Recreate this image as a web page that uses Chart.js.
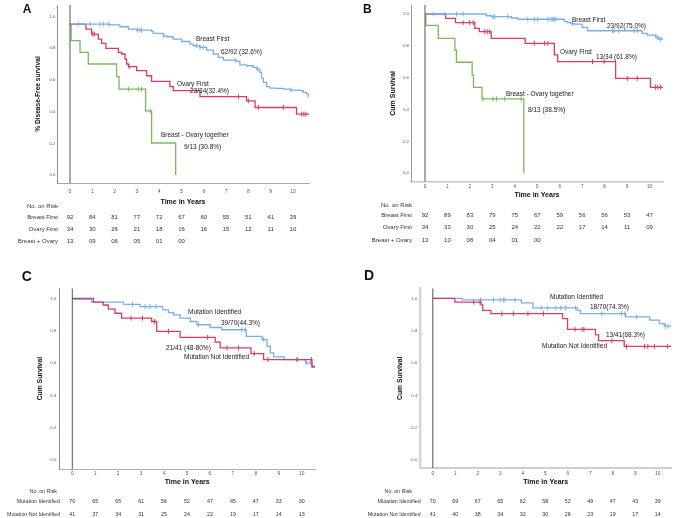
<!DOCTYPE html>
<html>
<head>
<meta charset="utf-8">
<script src="https://cdn.jsdelivr.net/npm/chart.js@4.4.1/dist/chart.umd.min.js"></script>
<style>
  body { margin: 0; background: #fff; }
  #wrap { position: relative; width: 676px; height: 518px; }
  canvas { position: absolute; }
</style>
</head>
<body>
<div id="wrap">
  <canvas id="chartA" width="338" height="259" style="left:0;top:0"></canvas>
  <canvas id="chartB" width="338" height="259" style="left:338px;top:0"></canvas>
  <canvas id="chartC" width="338" height="259" style="left:0;top:259px"></canvas>
  <canvas id="chartD" width="338" height="259" style="left:338px;top:259px"></canvas>
</div>
<script>
const FONT = "'Liberation Sans', Arial, sans-serif";
const BLUE = "#78b0e4";
const RED = "#d83c66";
const GREEN = "#7cb85b";

const years = [0, 1, 2, 3, 4, 5, 6, 7, 8, 9, 10];
const yTicks = [0, 0.2, 0.4, 0.6, 0.8, 1.0];

// ---- Panel A: disease-free survival ----
const aBreastFirst = [[0, 0.952], [1.79, 0.947], [2.24, 0.935], [2.62, 0.92], [2.99, 0.914], [3.66, 0.905], [3.74, 0.893], [4.19, 0.878], [4.33, 0.872], [4.63, 0.857], [5.01, 0.842], [5.38, 0.826], [5.53, 0.815], [5.83, 0.805], [6.13, 0.788], [6.43, 0.763], [6.65, 0.742], [6.88, 0.725], [7.47, 0.716], [7.62, 0.695], [7.92, 0.689], [8.22, 0.679], [8.37, 0.668], [8.52, 0.647], [8.59, 0.611], [8.67, 0.584], [8.82, 0.557], [8.97, 0.548], [9.27, 0.546], [9.57, 0.542], [9.87, 0.536], [10.31, 0.532], [10.46, 0.521], [10.61, 0.51], [10.7, 0.494], [10.75, 0.494]];
const aBreastFirstCens = [0.37, 0.9, 1.35, 1.49, 1.72, 3.03, 3.14, 3.21, 4.19, 5.68, 5.83, 5.98, 7.4, 8.42, 9.91];
const aOvaryFirst = [[0, 0.952], [0.72, 0.92], [0.97, 0.889], [1.27, 0.857], [1.42, 0.83], [1.61, 0.798], [2.17, 0.773], [2.32, 0.763], [2.47, 0.731], [2.54, 0.7], [2.62, 0.683], [2.99, 0.658], [3.44, 0.626], [3.66, 0.59], [4.48, 0.557], [4.63, 0.532], [5.83, 0.494], [7.92, 0.468], [8.3, 0.426], [10.16, 0.384], [10.75, 0.384]];
const aOvaryFirstCens = [1.02, 1.09, 2.65, 7.55, 8.0, 8.45, 9.57, 10.39, 10.49, 10.58];
const aTogether = [[0, 0.952], [0.05, 0.848], [0.45, 0.773], [0.82, 0.7], [2.09, 0.62], [2.2, 0.542], [3.39, 0.405], [3.66, 0.202], [4.74, 0]];
const aTogetherCens = [2.62, 3.06, 3.21, 3.6];
const aRiskNames = ["Breast First", "Ovary First", "Breast + Ovary"];
const aRiskBreast = ["92", "84", "81", "77", "72", "67", "60", "55", "51", "41", "39"];
const aRiskOvary = ["34", "30", "26", "21", "18", "16", "16", "15", "12", "11", "10"];
const aRiskBoth = ["13", "09", "06", "05", "01", "00"];
const aLabels = ["Breast First", "62/92 (32.6%)", "Ovary First", "23/34(32.4%)", "Breast - Ovary together", "9/13 (30.8%)"];

// ---- Panel B: overall survival ----
const bBreastFirst = [[0, 1], [2.73, 0.989], [2.95, 0.983], [3.84, 0.975], [4.14, 0.967], [6.2, 0.954], [6.35, 0.946], [6.5, 0.94], [6.65, 0.937], [7.0, 0.916], [7.24, 0.895], [9.67, 0.879], [9.9, 0.868], [10.27, 0.854], [10.4, 0.843], [10.6, 0.843]];
const bBreastFirstCens = [0.37, 0.89, 1.4, 1.7, 3.03, 3.1, 3.69, 4.58, 4.87, 5.02, 5.47, 5.61, 5.69, 5.76, 5.83, 6.57, 8.35, 8.42, 8.64, 9.31, 9.45, 10.34, 10.49];
const bOvaryFirst = [[0, 1], [0.92, 0.973], [1.36, 0.946], [2.22, 0.91], [2.42, 0.889], [2.95, 0.847], [4.46, 0.816], [5.76, 0.743], [5.91, 0.701], [8.49, 0.596], [10.04, 0.54], [10.6, 0.54]];
const bOvaryFirstCens = [1.7, 1.99, 2.15, 2.66, 2.77, 2.88, 4.87, 5.32, 5.47, 7.46, 7.98, 9.01, 9.45, 10.27, 10.37, 10.49];
const bTogether = [[0, 1], [0.04, 0.929], [0.59, 0.847], [1.33, 0.774], [1.4, 0.697], [2.1, 0.617], [2.16, 0.54], [2.54, 0.467], [4.4, 0]];
const bTogetherCens = [2.58, 3.03, 3.18, 3.55, 4.28];
const bRiskNames = ["Breast First", "Ovary First", "Breast + Ovary"];
const bRiskBreast = ["92", "89", "83", "79", "75", "67", "59", "56", "56", "53", "47"];
const bRiskOvary = ["34", "33", "30", "25", "24", "22", "22", "17", "14", "11", "09"];
const bRiskBoth = ["13", "10", "08", "04", "01", "00"];
const bLabels = ["Breast First", "23/92(75.0%)", "Ovary First", "13/34 (61.8%)", "Breast - Ovary together", "8/13 (38.5%)"];

// ---- Panel C: mutation status, disease-free ----
const cIdentified = [[0, 0.994], [0.84, 0.976], [2.23, 0.963], [2.95, 0.949], [3.94, 0.929], [4.19, 0.912], [4.41, 0.898], [4.7, 0.878], [5.14, 0.857], [5.43, 0.837], [6.01, 0.82], [6.52, 0.806], [7.58, 0.765], [8.27, 0.745], [8.49, 0.704], [8.63, 0.663], [8.78, 0.639], [9.24, 0.622], [10.16, 0.602], [10.45, 0.582], [10.6, 0.582]];
const cIdentifiedCens = [2.63, 3.17, 3.39, 3.65, 5.5, 7.39, 7.54, 8.34, 9.8, 10.2, 10.38];
const cNotIdentified = [[0, 1], [0.92, 0.976], [1.35, 0.959], [1.57, 0.933], [1.86, 0.908], [2.15, 0.878], [3.46, 0.857], [3.68, 0.796], [4.7, 0.759], [6.23, 0.729], [6.45, 0.694], [7.79, 0.659], [8.34, 0.622], [10.45, 0.576], [10.6, 0.576]];
const cNotIdentifiedCens = [2.56, 3.06, 3.58, 4.19, 5.9, 6.74, 7.25, 7.93, 8.53, 9.8, 10.43];
const cRiskNames = ["Mutation Identified", "Mutation Not Identified"];
const cRiskIdentified = ["70", "65", "65", "61", "56", "52", "47", "45", "47", "33", "30"];
const cRiskNot = ["41", "37", "34", "31", "25", "24", "22", "19", "17", "14", "13"];
const cLabels = ["Mutation Identified", "39/70(44.3%)", "21/41 (48-80%)", "Mutation Not Identified"];

// ---- Panel D: mutation status, overall ----
const dIdentified = [[0, 1], [1.31, 0.99], [3.94, 0.972], [4.45, 0.941], [6.42, 0.925], [6.57, 0.905], [8.57, 0.885], [9.64, 0.865], [10.07, 0.844], [10.29, 0.828], [10.6, 0.828]];
const dIdentifiedCens = [2.12, 2.7, 2.99, 3.14, 3.21, 3.65, 4.82, 5.11, 5.47, 5.69, 5.91, 6.35, 7.52, 8.39, 8.54, 9.05, 10.34, 10.46];
const dNotIdentified = [[0, 1], [0.98, 0.976], [2.15, 0.96], [2.22, 0.925], [2.58, 0.905], [5.77, 0.875], [5.99, 0.808], [7.23, 0.774], [7.37, 0.739], [8.51, 0.703], [10.6, 0.703]];
const dNotIdentifiedCens = [1.82, 2.1, 3.07, 3.58, 4.23, 4.92, 6.32, 6.64, 6.72, 7.96, 8.61, 9.42, 9.56, 9.85, 10.44];
const dRiskNames = ["Mutation Identified", "Mutation Not Identified"];
const dRiskIdentified = ["70", "69", "67", "65", "62", "58", "52", "49", "47", "43", "39"];
const dRiskNot = ["41", "40", "38", "34", "32", "30", "26", "23", "19", "17", "14"];
const dLabels = ["Mutation Identified", "18/70(74.3%)", "13/41(68.3%)", "Mutation Not Identified"];

// value of a step curve at time t
function stepAt(curve, t) {
  let s = curve[0][1];
  curve.forEach(([x, y]) => { if (x <= t) s = y; });
  return s;
}

function curveSet(curve, color) {
  return {
    data: curve.map(([x, y]) => ({ x, y })),
    stepped: true,
    borderColor: color,
    borderWidth: 1.3,
    pointRadius: 0,
    fill: false,
  };
}

function censorSet(curve, times, color) {
  return {
    data: times.map((t) => ({ x: t, y: stepAt(curve, t) })),
    showLine: false,
    pointStyle: "line",
    rotation: 90,
    pointRadius: 2.5,
    borderColor: color,
    borderWidth: 1,
  };
}

// text drawn on top: panel letter, curve labels, numbers at risk
function textPlugin(p) {
  return {
    id: "kmText" + p.letter,
    afterDraw(chart) {
      const ctx = chart.ctx;
      const xs = chart.scales.x;
      ctx.save();
      ctx.fillStyle = "#111";
      ctx.textAlign = "left";
      ctx.textBaseline = "alphabetic";
      ctx.font = `bold ${p.letterSize}px ${FONT}`;
      ctx.fillText(p.letter, p.letterPos[0], p.letterPos[1]);

      ctx.fillStyle = "#222";
      ctx.textBaseline = "middle";
      ctx.font = `${p.labelSize}px ${FONT}`;
      p.labels.forEach((txt, i) => ctx.fillText(txt, p.labelPos[i][0], p.labelPos[i][1]));

      ctx.fillStyle = "#333";
      ctx.font = `${p.riskSize}px ${FONT}`;
      ctx.textAlign = "right";
      ctx.fillText("No. on Risk", p.riskHead[0], p.riskHead[1]);
      p.risk.forEach((vals, r) => {
        ctx.textAlign = "right";
        ctx.fillText(p.riskNames[r], p.rowX, p.rowY[r]);
        ctx.textAlign = "center";
        vals.forEach((v, i) => ctx.fillText(v, xs.getPixelForValue(years[i]), p.rowY[r]));
      });
      ctx.restore();
    },
  };
}

function makePanel(id, p, datasets) {
  const W = 338, H = 259;
  const a = p.area;
  // vertical reference line at time 0
  datasets.unshift({
    data: [{ x: 0, y: p.y[0] }, { x: 0, y: p.y[1] }],
    borderColor: "#555",
    borderWidth: 1,
    pointRadius: 0,
  });
  return new Chart(document.getElementById(id), {
    type: "line",
    data: { datasets },
    options: {
      responsive: false,
      animation: false,
      events: [],
      layout: { padding: { left: 0, right: W - a.right, top: a.top, bottom: 0 } },
      plugins: { legend: { display: false }, tooltip: { enabled: false } },
      scales: {
        x: {
          type: "linear",
          min: p.x[0],
          max: p.x[1],
          grid: { display: false, drawTicks: false },
          border: { display: true, color: p.xAxis[0], width: p.xAxis[1] },
          ticks: { font: { family: FONT, size: p.xTickSize }, color: "#555", padding: p.xTickPad },
          afterBuildTicks: (s) => { s.ticks = years.map((v) => ({ value: v })); },
          afterFit: (s) => { s.height = H - a.bottom; },
          title: {
            display: true,
            text: "Time in Years",
            color: "#111",
            font: { family: FONT, size: 7, weight: "bold" },
            padding: { top: 0, bottom: p.xTitlePad },
          },
        },
        y: {
          min: p.y[0],
          max: p.y[1],
          grid: { display: false, drawTicks: false },
          border: { display: true, color: p.yAxis[0], width: p.yAxis[1] },
          ticks: {
            font: { family: FONT, size: 4.3 },
            color: "#555",
            padding: p.yTickPad,
            callback: (v) => v.toFixed(1),
          },
          afterBuildTicks: (s) => { s.ticks = yTicks.map((v) => ({ value: v })); },
          afterFit: (s) => { s.width = a.left; },
          title: {
            display: true,
            text: p.yTitle,
            color: "#111",
            font: { family: FONT, size: p.yTitleSize, weight: "bold" },
            padding: { top: p.yTitlePad, bottom: 0 },
          },
        },
      },
    },
    plugins: [textPlugin(p)],
  });
}

makePanel("chartA", {
  area: { left: 57, right: 309, top: 4, bottom: 183 },
  x: [-0.583, 10.72], y: [-0.05, 1.072],
  xAxis: ["#aaaaaa", 1], yAxis: ["#8c8c8c", 1],
  xTickSize: 5, xTickPad: 5.7, yTickPad: 1.5, xTitlePad: 52.8,
  yTitle: "% Disease-Free survival", yTitleSize: 6.6, yTitlePad: 34,
  letter: "A", letterSize: 12, letterPos: [22.7, 12.7],
  labels: aLabels, labelSize: 6.5,
  labelPos: [[196, 39], [221, 52], [177, 84], [190, 91], [161, 135], [184, 147]],
  riskSize: 6, riskHead: [58, 206.7], rowX: 58, rowY: [217, 229, 241.7],
  riskNames: aRiskNames, risk: [aRiskBreast, aRiskOvary, aRiskBoth],
}, [
  curveSet(aBreastFirst, BLUE), censorSet(aBreastFirst, aBreastFirstCens, BLUE),
  curveSet(aOvaryFirst, RED), censorSet(aOvaryFirst, aOvaryFirstCens, RED),
  curveSet(aTogether, GREEN), censorSet(aTogether, aTogetherCens, GREEN),
]);

makePanel("chartB", {
  area: { left: 73, right: 325, top: 5, bottom: 181.7 },
  x: [-0.623, 10.6], y: [-0.0527, 1.0565],
  xAxis: ["#c8c8c8", 1.5], yAxis: ["#999999", 1],
  xTickSize: 4.5, xTickPad: 2.3, yTickPad: 2, xTitlePad: 59.8,
  yTitle: "Cum Survival", yTitleSize: 7, yTitlePad: 50.8,
  letter: "B", letterSize: 12, letterPos: [25, 12.7],
  labels: bLabels, labelSize: 6.5,
  labelPos: [[234, 20], [269, 26], [222, 52], [258, 57], [168, 94], [190, 110]],
  riskSize: 6, riskHead: [74, 205.7], rowX: 74, rowY: [215.7, 227.7, 240.7],
  riskNames: bRiskNames, risk: [bRiskBreast, bRiskOvary, bRiskBoth],
}, [
  curveSet(bBreastFirst, BLUE), censorSet(bBreastFirst, bBreastFirstCens, BLUE),
  curveSet(bOvaryFirst, RED), censorSet(bOvaryFirst, bOvaryFirstCens, RED),
  curveSet(bTogether, GREEN), censorSet(bTogether, bTogetherCens, GREEN),
]);

makePanel("chartC", {
  area: { left: 59.3, right: 315, top: 29.3, bottom: 210 },
  x: [-0.567, 10.58], y: [-0.054, 1.062],
  xAxis: ["#b0b0b0", 1], yAxis: ["#8c8c8c", 1],
  xTickSize: 4.8, xTickPad: 1.4, yTickPad: 3, xTitlePad: 32.1,
  yTitle: "Cum Survival", yTitleSize: 6.8, yTitlePad: 35.9,
  letter: "C", letterSize: 14, letterPos: [21.7, 21.7],
  labels: cLabels, labelSize: 6.5,
  labelPos: [[188, 53.7], [221, 64], [166, 89], [184, 98.7]],
  riskSize: 5.3, riskHead: [57, 232.7], rowX: 60, rowY: [242.7, 255.3],
  riskNames: cRiskNames, risk: [cRiskIdentified, cRiskNot],
}, [
  curveSet(cNotIdentified, RED), censorSet(cNotIdentified, cNotIdentifiedCens, RED),
  curveSet(cIdentified, BLUE), censorSet(cIdentified, cIdentifiedCens, BLUE),
]);

makePanel("chartD", {
  area: { left: 82.3, right: 336.7, top: 29.3, bottom: 209.3 },
  x: [-0.556, 10.59], y: [-0.051, 1.062],
  xAxis: ["#cfcfcf", 2], yAxis: ["#d6d6d6", 2.5],
  xTickSize: 4.8, xTickPad: 2.1, yTickPad: 3, xTitlePad: 32.1,
  yTitle: "Cum Survival", yTitleSize: 6.8, yTitlePad: 57.6,
  letter: "D", letterSize: 14, letterPos: [26, 21],
  labels: dLabels, labelSize: 6.5,
  labelPos: [[212, 38.7], [252, 48.7], [268, 76], [204, 87.7]],
  riskSize: 5.3, riskHead: [74, 232.7], rowX: 82.7, rowY: [242.7, 255.3],
  riskNames: dRiskNames, risk: [dRiskIdentified, dRiskNot],
}, [
  curveSet(dNotIdentified, RED), censorSet(dNotIdentified, dNotIdentifiedCens, RED),
  curveSet(dIdentified, BLUE), censorSet(dIdentified, dIdentifiedCens, BLUE),
]);
</script>
</body>
</html>
